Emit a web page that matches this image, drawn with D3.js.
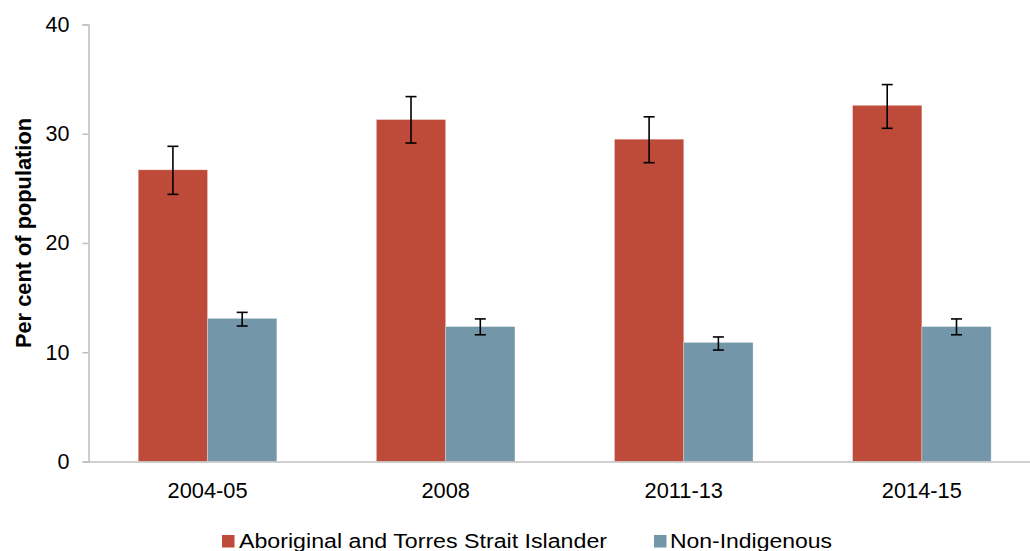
<!DOCTYPE html>
<html>
<head>
<meta charset="utf-8">
<script src="https://cdn.jsdelivr.net/npm/d3@7"></script>
<style>
  html, body { margin: 0; padding: 0; background: #fff; }
  svg { display: block; font-family: "Liberation Sans", Arial, sans-serif; }
</style>
</head>
<body>
<svg id="chart" width="1030" height="551"></svg>
<script>
const categories = ["2004-05", "2008", "2011-13", "2014-15"];
const seriesNames = ["Aboriginal and Torres Strait Islander", "Non-Indigenous"];
const indigenousValues = [26.7, 31.3, 29.5, 32.6];
const indigenousLow = [24.45, 29.15, 27.35, 30.5];
const indigenousHigh = [28.85, 33.4, 31.55, 34.5];
const nonIndigenousValues = [13.1, 12.35, 10.9, 12.35];
const nonIndigenousLow = [12.4, 11.6, 10.2, 11.6];
const nonIndigenousHigh = [13.65, 13.05, 11.4, 13.05];
const yTicks = [0, 10, 20, 30, 40];
const yTitle = "Per cent of population";
const colors = ["#be4b3a", "#7397a9"];

const series = [
  { name: seriesNames[0], values: indigenousValues, low: indigenousLow, high: indigenousHigh, color: colors[0] },
  { name: seriesNames[1], values: nonIndigenousValues, low: nonIndigenousLow, high: nonIndigenousHigh, color: colors[1] }
];

const svg = d3.select("#chart");
const x0 = 88.5, x1 = 1040.9, yBottom = 461.5, yTop = 24.5;

const x = d3.scaleBand().domain(categories).range([x0, x1]).paddingInner(0.418).paddingOuter(0.209);
const xs = d3.scaleBand().domain(seriesNames).range([0, x.bandwidth()]).padding(0);
const y = d3.scaleLinear().domain([0, 40]).range([yBottom, yTop]);

// Bars
series.forEach(s => {
  svg.append("g").selectAll("rect").data(categories).join("rect")
    .attr("x", (c) => x(c) + xs(s.name))
    .attr("y", (c, i) => y(s.values[i]))
    .attr("width", xs.bandwidth())
    .attr("height", (c, i) => y(0) - y(s.values[i]))
    .attr("fill", s.color)
    .attr("stroke", "rgba(255,255,255,0.35)")
    .attr("stroke-width", 0.8);
});

// Error bars
series.forEach(s => {
  const g = svg.append("g").attr("stroke", "#000").attr("stroke-width", 1.6).attr("fill", "none");
  categories.forEach((c, i) => {
    const cx = x(c) + xs(s.name) + xs.bandwidth() / 2;
    g.append("line").attr("x1", cx).attr("x2", cx).attr("y1", y(s.low[i])).attr("y2", y(s.high[i]));
    g.append("line").attr("x1", cx - 5.5).attr("x2", cx + 5.5).attr("y1", y(s.low[i])).attr("y2", y(s.low[i]));
    g.append("line").attr("x1", cx - 5.5).attr("x2", cx + 5.5).attr("y1", y(s.high[i])).attr("y2", y(s.high[i]));
  });
});

// Y axis
const yAxis = d3.axisLeft(y).tickValues(yTicks).tickSize(6).tickPadding(13).tickFormat(d3.format("d"));
const gy = svg.append("g").attr("transform", `translate(${x0},0)`).call(yAxis);
gy.select(".domain").attr("stroke", "#bfbfbf").attr("stroke-width", 1.5);
gy.selectAll(".tick line").attr("stroke", "#bfbfbf").attr("stroke-width", 1.5);
gy.selectAll(".tick text").attr("font-size", "21.5px").attr("fill", "#000")
  .attr("font-family", "Liberation Sans, Arial, sans-serif");

// X axis
const xAxis = d3.axisBottom(x).tickSize(0).tickPadding(21);
const gx = svg.append("g").attr("transform", `translate(0,${yBottom})`).call(xAxis);
gx.select(".domain").attr("stroke", "#bfbfbf").attr("stroke-width", 1.5);
gx.selectAll(".tick text").attr("font-size", "21.8px").attr("fill", "#000")
  .attr("font-family", "Liberation Sans, Arial, sans-serif");

// Y title
svg.append("text")
  .attr("transform", `translate(31,233) rotate(-90)`)
  .attr("text-anchor", "middle")
  .attr("font-size", "21.8px")
  .attr("font-weight", "bold")
  .attr("fill", "#000")
  .text(yTitle);

// Legend
const legendItems = [
  { name: seriesNames[0], color: colors[0], sx: 222, tx: 239, len: 368 },
  { name: seriesNames[1], color: colors[1], sx: 654, tx: 670, len: 162 }
];
const lg = svg.append("g");
legendItems.forEach(item => {
  lg.append("rect").attr("x", item.sx).attr("y", 535).attr("width", 12.5).attr("height", 12.5).attr("fill", item.color);
  lg.append("text").attr("x", item.tx).attr("y", 547.5)
    .attr("font-size", "20px").attr("fill", "#000")
    .attr("textLength", item.len).attr("lengthAdjust", "spacingAndGlyphs")
    .text(item.name);
});
</script>
</body>
</html>
